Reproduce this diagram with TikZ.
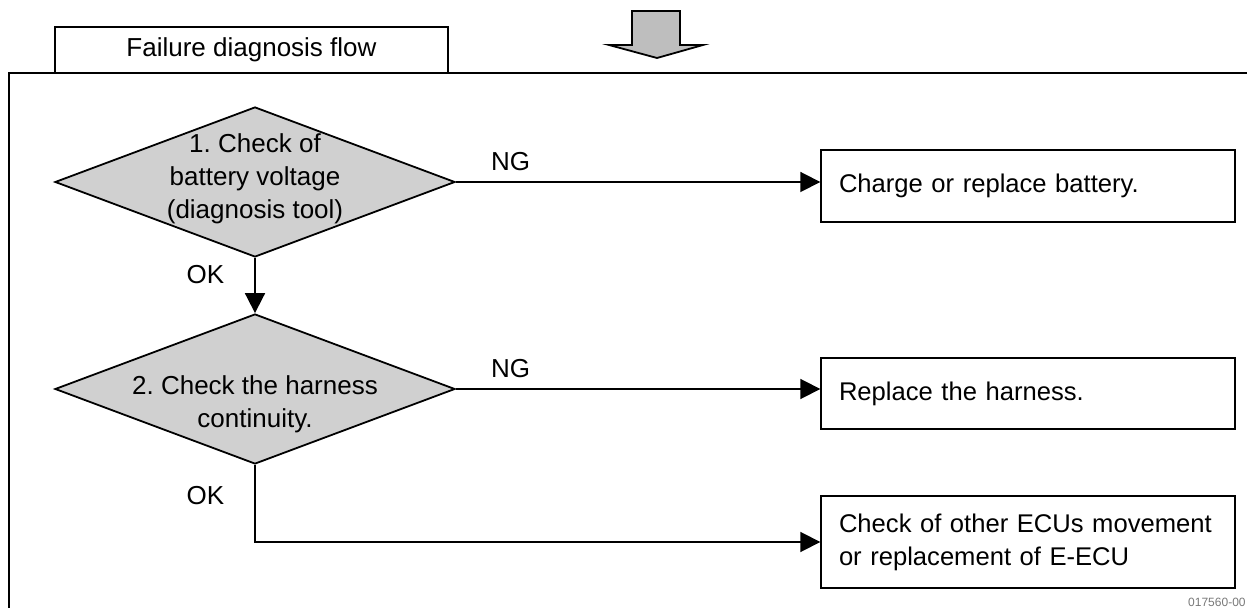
\documentclass[tikz,border=0pt]{standalone}
\usepackage{fontspec}
\setmainfont{Liberation Sans}
\usetikzlibrary{positioning, shapes.geometric, arrows.meta}
\definecolor{hint}{RGB}{120,120,120}
\definecolor{shade}{RGB}{208,208,208}
\definecolor{arrowbg}{RGB}{190,190,190}
\tikzset{
  decision/.style={diamond, draw, fill=shade, line width=0.9pt, minimum width=200pt, minimum height=75pt, inner sep=0pt},
  decisiontext/.style={align=center, font=\fontsize{13}{16.5}\selectfont\frenchspacing, inner sep=0pt},
  action/.style={rectangle, draw, line width=0.7pt, text width=189pt, inner xsep=9pt, inner ysep=2pt, align=left, font=\fontsize{12.8}{16.5}\selectfont\frenchspacing},
  titlebox/.style={rectangle, draw, fill=white, line width=0.7pt, minimum width=196.5pt, minimum height=23pt, inner sep=0pt, font=\fontsize{13}{16.5}\selectfont},
  flow/.style={line width=0.9pt, -{Triangle[length=10pt,width=10pt]}},
  edgelabel/.style={font=\fontsize{13}{16.5}\selectfont, inner sep=1pt},
}
\begin{document}
\begin{tikzpicture}[x=0.5pt, y=-0.5pt]
\useasboundingbox (0,0) rectangle (1247,608);
% frame and title
\draw[line width=1.2pt] (9,608) -- (9,73) -- (1247,73);
\node[titlebox] (title) at (251.5,50) {Failure diagnosis flow};
% arrow from above
\draw[fill=arrowbg, line width=0.9pt] (632,11) -- (680,11) -- (680,45) -- (703,45) -- (657,58) -- (609,45) -- (632,45) -- cycle;
% decisions
\node[decision] (chk1) at (255,182) {};
\node[decisiontext] (chk1txt) at (255,179) {1. Check of\\battery voltage\\(diagnosis tool)};
\node[decision] (chk2) at (255,389) {};
\node[decisiontext] (chk2txt) at (255,404) {2. Check the harness\\continuity.};
% actions
\node[action, minimum height=36pt] (battery) at (1028,186) {Charge or replace battery.};
\node[action, minimum height=35.5pt] (harness) at (1028,393.5) {Replace the harness.};
\node[action, minimum height=46pt] (ecu) at (1028,542) {Check of other ECUs movement\\or replacement of E-ECU};
% connectors
\draw[flow] (chk1.east) -- (chk1.east -| battery.west) node[edgelabel, pos=0.15, above=4pt] {NG};
\draw[flow] (chk1.south) -- (chk2.north) node[edgelabel, pos=0.3, left=14pt] {OK};
\draw[flow] (chk2.east) -- (chk2.east -| harness.west) node[edgelabel, pos=0.15, above=4pt] {NG};
\draw[flow] (chk2.south) |- (ecu.west) node[edgelabel, pos=0.2, left=14pt] {OK};
\node[font=\fontsize{6}{7}\selectfont, text=hint, anchor=south east, inner sep=0pt] (code) at (1246,607) {017560-00};
\end{tikzpicture}
\end{document}
